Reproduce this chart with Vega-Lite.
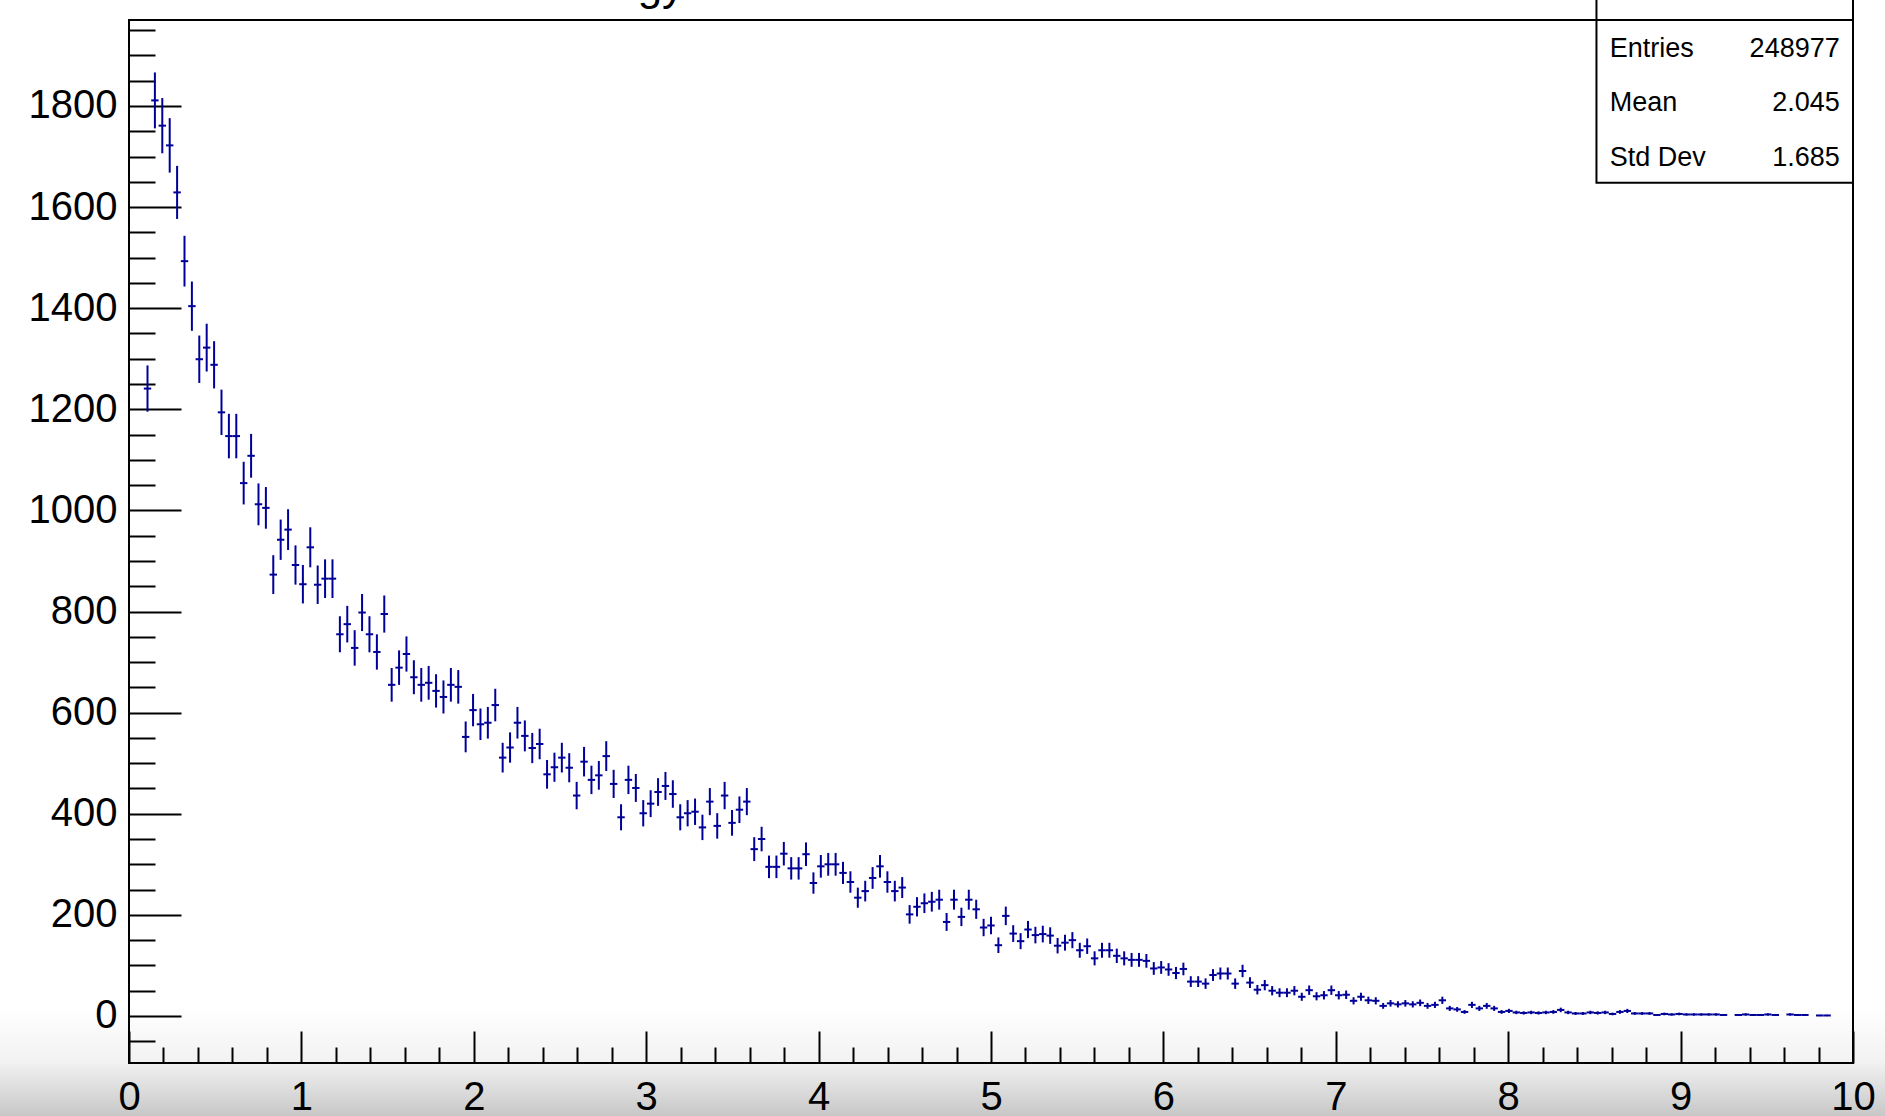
{
  "$schema": "https://vega.github.io/schema/vega-lite/v6.json",
  "width": 1724,
  "height": 1043,
  "padding": {"left": 129, "top": 20, "right": 32, "bottom": 53},
  "autosize": {"type": "none"},
  "background": "white",
  "config": {"view": {"stroke": "black", "strokeWidth": 2}, "font": "Liberation Sans"},
  "resolve": {"axis": {"x": "independent", "y": "independent"}},
  "datasets": {
    "h": [
{"x":0.1073,"y":1241,"e":45.8},{"x":0.1502,"y":1811,"e":55.3},{"x":0.1931,"y":1761,"e":54.6},{"x":0.2361,"y":1722,"e":53.9},{"x":0.2790,"y":1629,"e":52.5},{"x":0.3219,"y":1493,"e":50.2},{"x":0.3648,"y":1404,"e":48.7},{"x":0.4077,"y":1299,"e":46.9},{"x":0.4506,"y":1322,"e":47.3},{"x":0.4936,"y":1288,"e":46.7},{"x":0.5365,"y":1194,"e":44.9},{"x":0.5794,"y":1147,"e":44.0},{"x":0.6223,"y":1147,"e":44.0},{"x":0.6652,"y":1054,"e":42.2},{"x":0.7082,"y":1108,"e":43.3},{"x":0.7511,"y":1012,"e":41.4},{"x":0.7940,"y":1005,"e":41.2},{"x":0.8369,"y":873,"e":38.4},{"x":0.8798,"y":942,"e":39.9},{"x":0.9227,"y":962,"e":40.3},{"x":0.9657,"y":892,"e":38.8},{"x":1.0086,"y":854,"e":38.0},{"x":1.0515,"y":927,"e":39.6},{"x":1.0944,"y":853,"e":38.0},{"x":1.1373,"y":865,"e":38.2},{"x":1.1803,"y":865,"e":38.2},{"x":1.2232,"y":755,"e":35.7},{"x":1.2661,"y":775,"e":36.2},{"x":1.3090,"y":728,"e":35.1},{"x":1.3519,"y":798,"e":36.7},{"x":1.3948,"y":755,"e":35.7},{"x":1.4378,"y":720,"e":34.9},{"x":1.4807,"y":795,"e":36.7},{"x":1.5236,"y":655,"e":33.3},{"x":1.5665,"y":689,"e":34.1},{"x":1.6094,"y":716,"e":34.8},{"x":1.6524,"y":670,"e":33.6},{"x":1.6953,"y":655,"e":33.3},{"x":1.7382,"y":659,"e":33.4},{"x":1.7811,"y":643,"e":33.0},{"x":1.8240,"y":631,"e":32.7},{"x":1.8670,"y":655,"e":33.3},{"x":1.9099,"y":651,"e":33.2},{"x":1.9528,"y":552,"e":30.5},{"x":1.9957,"y":605,"e":32.0},{"x":2.0386,"y":577,"e":31.2},{"x":2.0815,"y":580,"e":31.3},{"x":2.1245,"y":615,"e":32.2},{"x":2.1674,"y":511,"e":29.4},{"x":2.2103,"y":531,"e":30.0},{"x":2.2532,"y":580,"e":31.3},{"x":2.2961,"y":554,"e":30.6},{"x":2.3391,"y":530,"e":29.9},{"x":2.3820,"y":538,"e":30.2},{"x":2.4249,"y":478,"e":28.4},{"x":2.4678,"y":492,"e":28.8},{"x":2.5107,"y":511,"e":29.4},{"x":2.5536,"y":491,"e":28.8},{"x":2.5966,"y":436,"e":27.1},{"x":2.6395,"y":503,"e":29.2},{"x":2.6824,"y":467,"e":28.1},{"x":2.7253,"y":476,"e":28.4},{"x":2.7682,"y":514,"e":29.5},{"x":2.8112,"y":459,"e":27.9},{"x":2.8541,"y":393,"e":25.8},{"x":2.8970,"y":467,"e":28.1},{"x":2.9399,"y":451,"e":27.6},{"x":2.9828,"y":401,"e":26.0},{"x":3.0258,"y":420,"e":26.6},{"x":3.0687,"y":443,"e":27.4},{"x":3.1116,"y":455,"e":27.7},{"x":3.1545,"y":439,"e":27.2},{"x":3.1974,"y":393,"e":25.8},{"x":3.2403,"y":401,"e":26.0},{"x":3.2833,"y":404,"e":26.1},{"x":3.3262,"y":373,"e":25.1},{"x":3.3691,"y":424,"e":26.8},{"x":3.4120,"y":376,"e":25.2},{"x":3.4549,"y":436,"e":27.1},{"x":3.4979,"y":382,"e":25.4},{"x":3.5408,"y":408,"e":26.3},{"x":3.5837,"y":424,"e":26.8},{"x":3.6266,"y":330,"e":23.6},{"x":3.6695,"y":350,"e":24.3},{"x":3.7124,"y":295,"e":22.3},{"x":3.7554,"y":295,"e":22.3},{"x":3.7983,"y":321,"e":23.3},{"x":3.8412,"y":292,"e":22.2},{"x":3.8841,"y":292,"e":22.2},{"x":3.9270,"y":320,"e":23.3},{"x":3.9700,"y":263,"e":21.1},{"x":4.0129,"y":296,"e":22.4},{"x":4.0558,"y":300,"e":22.5},{"x":4.0987,"y":300,"e":22.5},{"x":4.1416,"y":283,"e":21.9},{"x":4.1845,"y":265,"e":21.2},{"x":4.2275,"y":234,"e":19.9},{"x":4.2704,"y":247,"e":20.4},{"x":4.3133,"y":273,"e":21.5},{"x":4.3562,"y":296,"e":22.4},{"x":4.3991,"y":265,"e":21.2},{"x":4.4421,"y":247,"e":20.4},{"x":4.4850,"y":254,"e":20.7},{"x":4.5279,"y":201,"e":18.4},{"x":4.5708,"y":216,"e":19.1},{"x":4.6137,"y":223,"e":19.4},{"x":4.6567,"y":226,"e":19.5},{"x":4.6996,"y":230,"e":19.7},{"x":4.7425,"y":186,"e":17.7},{"x":4.7854,"y":230,"e":19.7},{"x":4.8283,"y":196,"e":18.2},{"x":4.8712,"y":230,"e":19.7},{"x":4.9142,"y":211,"e":18.9},{"x":4.9571,"y":175,"e":17.2},{"x":5.0000,"y":179,"e":17.4},{"x":5.0429,"y":140,"e":15.4},{"x":5.0858,"y":198,"e":18.3},{"x":5.1288,"y":163,"e":16.6},{"x":5.1717,"y":148,"e":15.8},{"x":5.2146,"y":171,"e":17.0},{"x":5.2575,"y":160,"e":16.4},{"x":5.3004,"y":162,"e":16.5},{"x":5.3433,"y":159,"e":16.4},{"x":5.3863,"y":139,"e":15.3},{"x":5.4292,"y":145,"e":15.7},{"x":5.4721,"y":150,"e":15.9},{"x":5.5150,"y":130,"e":14.8},{"x":5.5579,"y":138,"e":15.3},{"x":5.6009,"y":114,"e":13.9},{"x":5.6438,"y":130,"e":14.8},{"x":5.6867,"y":130,"e":14.8},{"x":5.7296,"y":119,"e":14.2},{"x":5.7725,"y":114,"e":13.9},{"x":5.8155,"y":111,"e":13.7},{"x":5.8584,"y":111,"e":13.7},{"x":5.9013,"y":109,"e":13.6},{"x":5.9442,"y":94,"e":12.6},{"x":5.9871,"y":96,"e":12.7},{"x":6.0300,"y":92,"e":12.5},{"x":6.0730,"y":85,"e":12.0},{"x":6.1159,"y":93,"e":12.5},{"x":6.1588,"y":68,"e":10.7},{"x":6.2017,"y":68,"e":10.7},{"x":6.2446,"y":64,"e":10.4},{"x":6.2876,"y":81,"e":11.7},{"x":6.3305,"y":84,"e":11.9},{"x":6.3734,"y":84,"e":11.9},{"x":6.4163,"y":64,"e":10.4},{"x":6.4592,"y":89,"e":12.3},{"x":6.5021,"y":66,"e":10.6},{"x":6.5451,"y":52,"e":9.4},{"x":6.5880,"y":61,"e":10.2},{"x":6.6309,"y":50,"e":9.2},{"x":6.6738,"y":46,"e":8.8},{"x":6.7167,"y":46,"e":8.8},{"x":6.7597,"y":50,"e":9.2},{"x":6.8026,"y":38,"e":8.0},{"x":6.8455,"y":51,"e":9.3},{"x":6.8884,"y":39,"e":8.1},{"x":6.9313,"y":41,"e":8.3},{"x":6.9742,"y":51,"e":9.3},{"x":7.0172,"y":41,"e":8.3},{"x":7.0601,"y":42,"e":8.4},{"x":7.1030,"y":30,"e":7.1},{"x":7.1459,"y":38,"e":8.0},{"x":7.1888,"y":31,"e":7.2},{"x":7.2318,"y":30,"e":7.1},{"x":7.2747,"y":20,"e":5.8},{"x":7.3176,"y":25,"e":6.5},{"x":7.3605,"y":23,"e":6.2},{"x":7.4034,"y":25,"e":6.5},{"x":7.4464,"y":23,"e":6.2},{"x":7.4893,"y":26,"e":6.6},{"x":7.5322,"y":20,"e":5.8},{"x":7.5751,"y":22,"e":6.1},{"x":7.6180,"y":31,"e":7.2},{"x":7.6609,"y":15,"e":5.0},{"x":7.7039,"y":13,"e":4.7},{"x":7.7468,"y":8,"e":3.7},{"x":7.7897,"y":22,"e":6.1},{"x":7.8326,"y":15,"e":5.0},{"x":7.8755,"y":20,"e":5.8},{"x":7.9185,"y":15,"e":5.0},{"x":7.9614,"y":8,"e":3.7},{"x":8.0043,"y":10,"e":4.1},{"x":8.0472,"y":7,"e":3.4},{"x":8.0901,"y":6,"e":3.2},{"x":8.1330,"y":7,"e":3.4},{"x":8.1760,"y":6,"e":3.2},{"x":8.2189,"y":7,"e":3.4},{"x":8.2618,"y":8,"e":3.7},{"x":8.3047,"y":12,"e":4.5},{"x":8.3476,"y":7,"e":3.4},{"x":8.3906,"y":5,"e":2.9},{"x":8.4335,"y":5,"e":2.9},{"x":8.4764,"y":7,"e":3.4},{"x":8.5193,"y":6,"e":3.2},{"x":8.5622,"y":7,"e":3.4},{"x":8.6052,"y":4,"e":2.6},{"x":8.6481,"y":8,"e":3.7},{"x":8.6910,"y":10,"e":4.1},{"x":8.7339,"y":5,"e":2.9},{"x":8.7768,"y":5,"e":2.9},{"x":8.8197,"y":5,"e":2.9},{"x":8.8627,"y":2,"e":1.8},{"x":8.9056,"y":4,"e":2.6},{"x":8.9485,"y":3,"e":2.3},{"x":8.9914,"y":4,"e":2.6},{"x":9.0343,"y":3,"e":2.3},{"x":9.0773,"y":3,"e":2.3},{"x":9.1202,"y":3,"e":2.3},{"x":9.1631,"y":3,"e":2.3},{"x":9.2060,"y":3,"e":2.3},{"x":9.2489,"y":2,"e":1.8},{"x":9.3348,"y":2,"e":1.8},{"x":9.3777,"y":3,"e":2.3},{"x":9.4206,"y":2,"e":1.8},{"x":9.4635,"y":2,"e":1.8},{"x":9.5064,"y":3,"e":2.3},{"x":9.5494,"y":2,"e":1.8},{"x":9.6352,"y":3,"e":2.3},{"x":9.6781,"y":2,"e":1.8},{"x":9.7210,"y":2,"e":1.8},{"x":9.8069,"y":1,"e":1.3},{"x":9.8498,"y":1,"e":1.3}
    ]
  },
  "layer": [
    {
      "data": {"name": "h"},
      "mark": {"type": "tick", "orient": "horizontal", "color": "#000099", "size": 7.4, "thickness": 2, "opacity": 1},
      "encoding": {
        "x": {"field": "x", "type": "quantitative",
          "scale": {"domain": [0, 10], "nice": false, "zero": false},
          "axis": {
            "orient": "bottom", "title": null, "domain": false, "grid": false,
            "values": [0,1,2,3,4,5,6,7,8,9,10],
            "format": "d", "tickSize": -32, "tickWidth": 2, "tickColor": "black",
            "labelFont": "Liberation Sans", "labelFontSize": 40, "labelColor": "black",
            "labelPadding": 46, "labelFlush": false, "labelOverlap": false
          }
        },
        "y": {"field": "y", "type": "quantitative",
          "scale": {"domain": [-93, 1970], "nice": false, "zero": false},
          "axis": {
            "orient": "left", "title": null, "domain": false, "grid": false,
            "values": [0,200,400,600,800,1000,1200,1400,1600,1800],
            "format": "d", "tickSize": -52, "tickWidth": 2, "tickColor": "black",
            "labelFont": "Liberation Sans", "labelFontSize": 40, "labelColor": "black",
            "labelPadding": 64, "labelFlush": false, "labelOverlap": false
          }
        }
      }
    },
    {
      "data": {"name": "h"},
      "mark": {"type": "errorbar", "color": "#000099", "thickness": 2},
      "encoding": {
        "x": {"field": "x", "type": "quantitative", "axis": null},
        "y": {"field": "y", "type": "quantitative", "axis": null},
        "yError": {"field": "e"}
      }
    },
    {
      "data": {"values": [{}]},
      "mark": {"type": "rect", "fillOpacity": 0, "stroke": "black", "strokeWidth": 2, "clip": false},
      "encoding": {
        "x": {"datum": 8.512, "type": "quantitative",
          "axis": {
            "orient": "bottom", "title": null, "domain": false, "grid": false, "labels": false,
            "values": [0.2,0.4,0.6,0.8,1.2,1.4,1.6,1.8,2.2,2.4,2.6,2.8,3.2,3.4,3.6,3.8,4.2,4.4,4.6,4.8,5.2,5.4,5.6,5.8,6.2,6.4,6.6,6.8,7.2,7.4,7.6,7.8,8.2,8.4,8.6,8.8,9.2,9.4,9.6,9.8],
            "tickSize": -16, "tickWidth": 2, "tickColor": "black"
          }
        },
        "x2": {"datum": 10.0},
        "y": {"datum": 1648, "type": "quantitative",
          "axis": {
            "orient": "left", "title": null, "domain": false, "grid": false, "labels": false,
            "values": [-50,50,100,150,250,300,350,450,500,550,650,700,750,850,900,950,1050,1100,1150,1250,1300,1350,1450,1500,1550,1650,1700,1750,1850,1900,1950],
            "tickSize": -26, "tickWidth": 2, "tickColor": "black"
          }
        },
        "y2": {"datum": 2150}
      }
    },
    {
      "data": {"values": [{}]},
      "mark": {"type": "text", "text": "Energy", "align": "right", "baseline": "alphabetic", "font": "Liberation Sans", "fontSize": 44, "color": "black", "clip": false},
      "encoding": {"x": {"datum": 3.22, "type": "quantitative", "axis": null}, "y": {"datum": 2009, "type": "quantitative", "axis": null}}
    },
    {
      "data": {"values": [{}]},
      "mark": {"type": "text", "text": "Entries", "align": "left", "baseline": "alphabetic", "font": "Liberation Sans", "fontSize": 27, "color": "black", "clip": false},
      "encoding": {"x": {"datum": 8.589, "type": "quantitative", "axis": null}, "y": {"datum": 1897, "type": "quantitative", "axis": null}}
    },
    {
      "data": {"values": [{}]},
      "mark": {"type": "text", "text": "248977", "align": "right", "baseline": "alphabetic", "font": "Liberation Sans", "fontSize": 27, "color": "black", "clip": false},
      "encoding": {"x": {"datum": 9.923, "type": "quantitative", "axis": null}, "y": {"datum": 1897, "type": "quantitative", "axis": null}}
    },
    {
      "data": {"values": [{}]},
      "mark": {"type": "text", "text": "Mean", "align": "left", "baseline": "alphabetic", "font": "Liberation Sans", "fontSize": 27, "color": "black", "clip": false},
      "encoding": {"x": {"datum": 8.589, "type": "quantitative", "axis": null}, "y": {"datum": 1790, "type": "quantitative", "axis": null}}
    },
    {
      "data": {"values": [{}]},
      "mark": {"type": "text", "text": "2.045", "align": "right", "baseline": "alphabetic", "font": "Liberation Sans", "fontSize": 27, "color": "black", "clip": false},
      "encoding": {"x": {"datum": 9.923, "type": "quantitative", "axis": null}, "y": {"datum": 1790, "type": "quantitative", "axis": null}}
    },
    {
      "data": {"values": [{}]},
      "mark": {"type": "text", "text": "Std Dev", "align": "left", "baseline": "alphabetic", "font": "Liberation Sans", "fontSize": 27, "color": "black", "clip": false},
      "encoding": {"x": {"datum": 8.589, "type": "quantitative", "axis": null}, "y": {"datum": 1682, "type": "quantitative", "axis": null}}
    },
    {
      "data": {"values": [{}]},
      "mark": {"type": "text", "text": "1.685", "align": "right", "baseline": "alphabetic", "font": "Liberation Sans", "fontSize": 27, "color": "black", "clip": false},
      "encoding": {"x": {"datum": 9.923, "type": "quantitative", "axis": null}, "y": {"datum": 1682, "type": "quantitative", "axis": null}}
    },
    {
      "data": {"values": [{}]},
      "mark": {"type": "rect", "clip": false, "strokeWidth": 0,
        "fill": {"gradient": "linear", "x1": 0, "y1": 0, "x2": 0, "y2": 1,
          "stops": [
            {"offset": 0, "color": "rgba(0,0,0,0)"},
            {"offset": 0.5, "color": "rgba(0,0,0,0.05)"},
            {"offset": 1, "color": "rgba(0,0,0,0.22)"}
          ]}},
      "encoding": {
        "x": {"datum": -1, "type": "quantitative", "axis": null},
        "x2": {"datum": 11},
        "y": {"datum": 18, "type": "quantitative", "axis": null},
        "y2": {"datum": -198}
      }
    }
  ]
}
